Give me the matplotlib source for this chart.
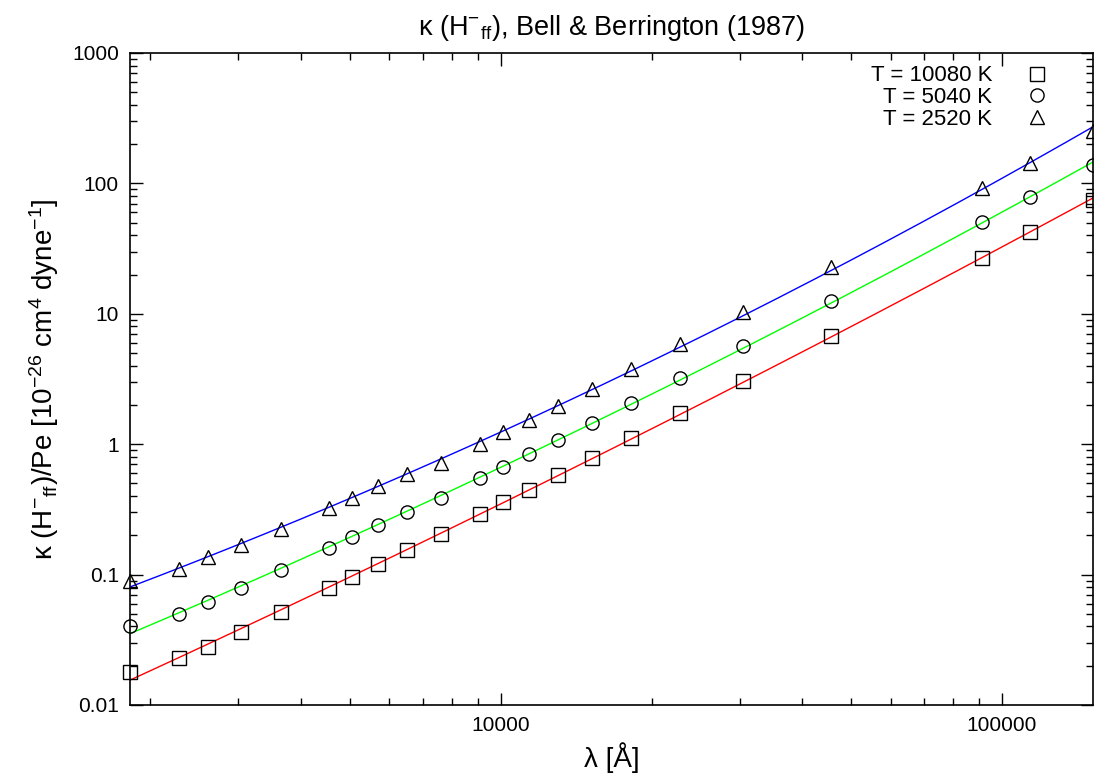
import numpy as np
import matplotlib
matplotlib.use("Agg")
import matplotlib.pyplot as plt

plt.rcParams['font.family'] = ['Liberation Sans', 'DejaVu Sans']
plt.rcParams['mathtext.fontset'] = 'custom'
plt.rcParams['mathtext.rm'] = 'Liberation Sans'
plt.rcParams['mathtext.it'] = 'Liberation Sans:italic'
plt.rcParams['mathtext.bf'] = 'Liberation Sans:bold'

# Wavelengths [Angstrom] (Bell & Berrington 1987)
wavelength = [1823, 2278, 2604, 3038, 3645, 4557, 5063, 5696, 6510, 7595,
              9113, 10126, 11392, 13019, 15189, 18227, 22784, 30378, 45567,
              91134, 113918, 151890]

# kappa(H-ff)/Pe in 1e-26 cm^4 dyne^-1
k_10080 = [0.0178, 0.0228, 0.0277, 0.0364, 0.0520, 0.0791, 0.0965, 0.121,
           0.155, 0.204, 0.291, 0.358, 0.448, 0.579, 0.781, 1.11, 1.73,
           3.04, 6.79, 27.0, 42.2, 75.1]
k_5040 = [0.0402, 0.0499, 0.0615, 0.0789, 0.108, 0.161, 0.195, 0.241,
          0.303, 0.390, 0.551, 0.673, 0.837, 1.08, 1.45, 2.07, 3.22,
          5.66, 12.6, 50.2, 78.4, 139]
k_2520 = [0.0896, 0.110, 0.136, 0.169, 0.225, 0.327, 0.390, 0.475,
          0.590, 0.718, 1.01, 1.23, 1.52, 1.95, 2.63, 3.75, 5.83,
          10.3, 23.0, 91.4, 143, 254]

labels = ['T = 10080 K', 'T = 5040 K', 'T = 2520 K']
markers = ['s', 'o', '^']
line_colors = ['#ff0000', '#00ff00', '#0000ff']

fig = plt.figure(figsize=(10.94, 7.76), dpi=100)
ax = fig.add_axes([130/1094, 71/776, 963/1094, 652/776])

lam = np.array(wavelength, dtype=float)
lam_fine = np.logspace(np.log10(lam.min()), np.log10(lam.max()), 400)

handles = []
for k, lab, mk, col in zip([k_10080, k_5040, k_2520], labels, markers, line_colors):
    k = np.array(k, dtype=float)
    # fitted curve: quadratic in log(lambda) vs log(kappa)
    coef = np.polyfit(np.log10(lam), np.log10(k), 2)
    ax.plot(lam_fine, 10**np.polyval(coef, np.log10(lam_fine)), color=col, lw=1.0, zorder=2)
    h, = ax.plot(lam, k, linestyle='none', marker=mk, markersize=9.5,
                 markerfacecolor='none', markeredgecolor='black',
                 markeredgewidth=1.0, label=lab, zorder=3, clip_on=False)
    handles.append(h)

ax.set_xscale('log')
ax.set_yscale('log')
ax.set_xlim(lam.min(), lam.max())
ax.set_ylim(0.01, 1000)

ax.set_xticks([10000, 100000])
ax.set_xticklabels(['10000', '100000'])
ax.set_yticks([0.01, 0.1, 1, 10, 100, 1000])
ax.set_yticklabels(['0.01', '0.1', '1', '10', '100', '1000'])
ax.tick_params(which='both', direction='in', top=True, right=True, labelsize=15)
ax.tick_params(which='major', length=9, width=1.0, pad=8)
ax.tick_params(which='minor', length=5, width=1.0)
ax.xaxis.set_minor_formatter(matplotlib.ticker.NullFormatter())
ax.yaxis.set_minor_formatter(matplotlib.ticker.NullFormatter())
for s in ax.spines.values():
    s.set_linewidth(1.2)

ax.set_title(r'κ (H$^{-}$$_{\mathrm{ff}}$), Bell & Berrington (1987)', fontsize=19.5, pad=13)
ax.set_xlabel('λ [Å]', fontsize=20, labelpad=5)
ax.set_ylabel(r'κ (H$^{-}$$_{\mathrm{ff}}$)/Pe [10$^{-26}$ cm$^{4}$ dyne$^{-1}$]', fontsize=20, labelpad=8)

leg = ax.legend(handles=handles, loc='upper right', frameon=False, markerfirst=False,
                fontsize=16, handlelength=1.0, handletextpad=1.5, labelspacing=0.03,
                borderaxespad=0.0, borderpad=0.0, bbox_to_anchor=(0.953, 0.981))

fig.savefig('out.png', dpi=100)
